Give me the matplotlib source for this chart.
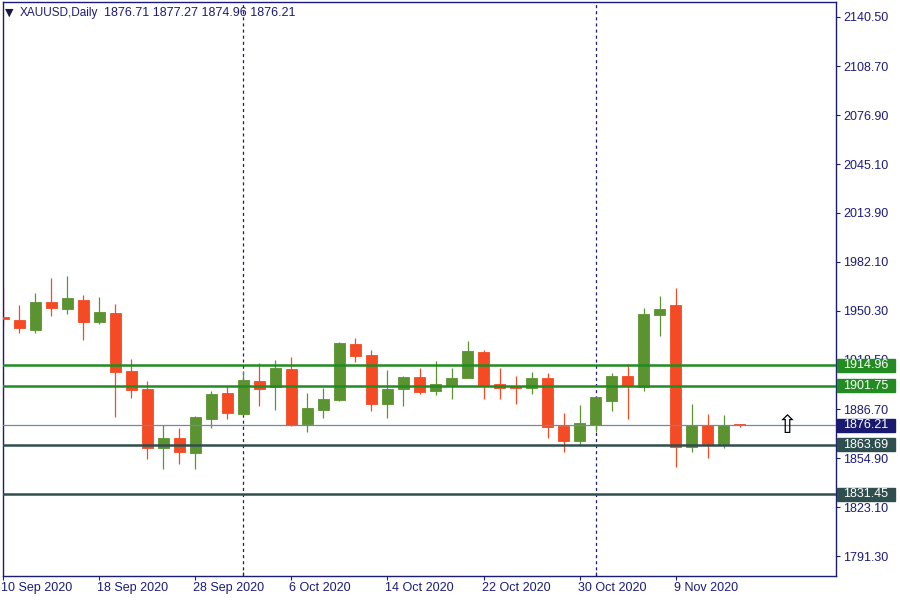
import matplotlib
matplotlib.use("Agg")
import matplotlib.pyplot as plt
import matplotlib.transforms as mtransforms
from matplotlib.patches import Rectangle

plt.rcParams['font.family'] = ['Liberation Sans', 'DejaVu Sans']
plt.rcParams['lines.scale_dashes'] = False

# daily OHLC (index 0 = 10 Sep 2020)
opens = [1946.2, 1944.2, 1937.8, 1955.9, 1951.6, 1957.2, 1943.1, 1948.8, 1911.2, 1899.6,
         1861.6, 1867.8, 1858.3, 1880.3, 1897.0, 1883.6, 1904.7, 1901.0, 1912.5, 1877.1,
         1886.2, 1892.4, 1928.7, 1921.6, 1890.0, 1899.8, 1907.3, 1898.5, 1902.4, 1906.9,
         1923.5, 1902.8, 1901.5, 1900.4, 1906.7, 1875.6, 1866.1, 1876.5, 1892.0, 1908.0,
         1901.0, 1947.7, 1953.9, 1862.2, 1876.3, 1864.1, 1876.71]
highs = [1965.8, 1953.9, 1961.7, 1971.4, 1972.7, 1960.4, 1959.1, 1954.6, 1919.0, 1904.7,
         1876.3, 1874.3, 1882.3, 1898.3, 1901.5, 1911.2, 1916.4, 1918.3, 1920.3, 1897.0,
         1900.4, 1930.0, 1932.6, 1924.8, 1911.9, 1908.0, 1913.2, 1917.7, 1913.2, 1930.6,
         1924.8, 1913.2, 1908.0, 1910.6, 1909.9, 1884.0, 1889.2, 1894.4, 1909.9, 1915.7,
         1952.0, 1959.8, 1964.9, 1889.8, 1883.4, 1882.7, 1877.27]
lows = [1940.3, 1936.0, 1936.0, 1947.0, 1948.3, 1931.5, 1941.8, 1881.6, 1893.9, 1854.4,
        1848.0, 1851.2, 1848.0, 1874.5, 1880.3, 1883.0, 1888.7, 1886.2, 1875.8, 1871.9,
        1881.0, 1892.0, 1917.0, 1885.5, 1881.0, 1888.7, 1896.5, 1895.9, 1893.3, 1906.5,
        1893.3, 1893.3, 1890.0, 1896.5, 1868.0, 1859.0, 1863.5, 1871.9, 1885.5, 1880.3,
        1898.5, 1934.1, 1849.3, 1859.0, 1855.1, 1861.6, 1874.96]
closes = [1945.1, 1939.2, 1955.9, 1952.2, 1958.5, 1943.1, 1949.4, 1910.8, 1899.1, 1861.6,
          1867.8, 1859.0, 1881.4, 1896.3, 1884.2, 1905.4, 1899.8, 1913.2, 1876.5, 1887.3,
          1893.1, 1929.3, 1921.1, 1890.0, 1899.6, 1907.3, 1897.8, 1902.8, 1906.7, 1924.2,
          1902.4, 1900.4, 1900.4, 1906.7, 1875.2, 1866.1, 1877.5, 1894.4, 1908.0, 1902.4,
          1948.1, 1951.4, 1862.2, 1876.3, 1864.1, 1876.3, 1876.21]

date_tick_idx = [0, 6, 12, 18, 24, 30, 36, 42]
date_tick_labels = ["10 Sep 2020", "18 Sep 2020", "28 Sep 2020", "6 Oct 2020",
                    "14 Oct 2020", "22 Oct 2020", "30 Oct 2020", "9 Nov 2020"]
month_sep_idx = [15, 37]

price_ticks = [2140.50, 2108.70, 2076.90, 2045.10, 2013.90, 1982.10, 1950.30,
               1918.50, 1886.70, 1854.90, 1823.10, 1791.30]

resistance = [1914.96, 1901.75]
support = [1863.69, 1831.45]
bid = 1876.21
arrow_idx, arrow_price = 49, 1875.5

symbol_text = "XAUUSD,Daily"
ohlc_text = "1876.71 1877.27 1874.96 1876.21"

# colours
UP = '#5B9331'
DOWN = '#F44B24'
NAVY = '#1B1B78'
RES_C = '#228B22'
SUP_C = '#2F4F4F'
BID_C = '#778899'

fig = plt.figure(figsize=(9, 6), dpi=100)
W, H = 900, 600
ax = fig.add_axes([3 / W, 24 / H, 833 / W, 574 / H])

ylo, yhi = 1778.6, 2150.2
ax.set_xlim(-0.03, 52.03)
ax.set_ylim(ylo, yhi)

# candles
for i in range(len(opens)):
    o, h, l, c = opens[i], highs[i], lows[i], closes[i]
    col = UP if c >= o else DOWN
    ax.vlines(i, l, h, color=col, lw=0.9, zorder=2)
    ax.bar(i, abs(c - o), bottom=min(o, c), width=0.69, color=col,
           edgecolor=col, linewidth=0.6, zorder=3)

# month separators
for s in month_sep_idx:
    ax.axvline(s, color=NAVY, lw=0.9, linestyle=(0, (2.2, 2.2)), zorder=1)

# horizontal levels
for p in resistance:
    ax.axhline(p, color=RES_C, lw=1.8, zorder=4)
for p in support:
    ax.axhline(p, color=SUP_C, lw=1.8, zorder=4)
ax.axhline(bid, color=BID_C, lw=0.9, zorder=4)

# arrow object
ax.text(arrow_idx, arrow_price, "\u21e7", family='DejaVu Sans', fontsize=18,
        ha='center', va='center', color='black', zorder=5)

# axes styling
for side in ['left', 'right', 'top', 'bottom']:
    ax.spines[side].set_color(NAVY)
    ax.spines[side].set_linewidth(1.0)

ax.yaxis.tick_right()
ax.set_yticks(price_ticks)
ax.set_yticklabels([f"{v:.2f}" for v in price_ticks])
ax.tick_params(axis='y', length=3, width=0.8, pad=2, colors=NAVY, labelsize=9)

ax.set_xticks(date_tick_idx)
ax.set_xticklabels(date_tick_labels, ha='left')
ax.tick_params(axis='x', length=3, width=0.8, pad=1.5, colors=NAVY, labelsize=9)
ax.set_xticks(month_sep_idx, minor=True)
ax.tick_params(axis='x', which='minor', direction='in', length=3, width=0.8, colors=NAVY)
for lab in ax.get_xticklabels():
    lab.set_transform(lab.get_transform() + mtransforms.ScaledTranslation(-2 / 100, 0, fig.dpi_scale_trans))

# price labels on the right scale
trans = mtransforms.blended_transform_factory(ax.transAxes, ax.transData)
box_h = (yhi - ylo) / 574 * 13
for p, col in [(resistance[0], RES_C), (resistance[1], RES_C), (bid, '#191970'),
               (support[0], SUP_C), (support[1], SUP_C)]:
    ax.add_patch(Rectangle((1 + 1.5 / 833, p - box_h / 2), 58 / 833, box_h,
                           transform=trans, color=col, clip_on=False, zorder=6))
    ax.text(1 + 7 / 833, p, f"{p:.2f}", transform=trans, color='white', fontsize=9,
            ha='left', va='center', clip_on=False, zorder=7)

# header
fig.text(5 / W, 1 - 13 / H, "\u25bc", family=['DejaVu Sans'], fontsize=8,
         color='#1a1a40', va='center', ha='left')
fig.text(20 / W, 1 - 13 / H, symbol_text, fontsize=8.5, color=NAVY, va='center', ha='left')
fig.text(104 / W, 1 - 13 / H, ohlc_text, fontsize=9, color=NAVY, va='center', ha='left')

fig.savefig("out.png", dpi=100)
